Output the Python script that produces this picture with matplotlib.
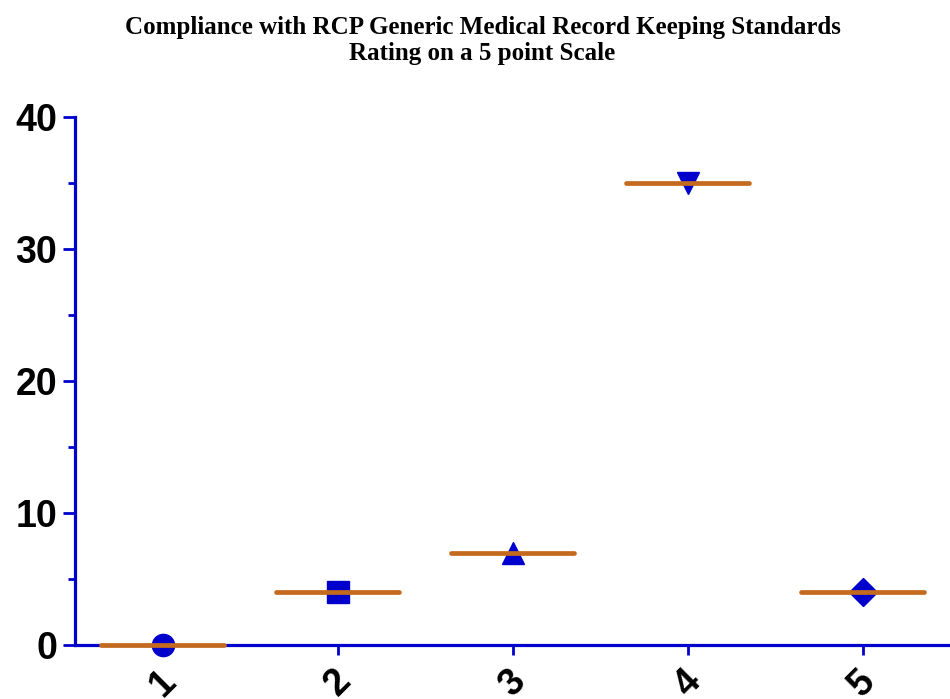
import matplotlib
matplotlib.use("Agg")
from matplotlib import pyplot as plt
import numpy as np

# ratings 1..5 and the counts plotted for each
ratings = [1, 2, 3, 4, 5]
counts = [0, 4, 7, 35, 4]
tick_labels = ["1", "2", "3", "4", "5"]
markers = ["o", "s", "^", "v", "D"]

blue = "#0000CC"
orange = "#C46A1E"

fig = plt.figure(figsize=(9.5, 6.99), dpi=100)
ax = fig.add_axes([0.079, 0.0773, 0.921, 0.7553])

for x, y, m in zip(ratings, counts, markers):
    ms = 16 if m != "D" else 14
    ax.plot(x, y, marker=m, color=blue, markersize=ms, linestyle="none",
            zorder=2, clip_on=False)

xs = np.array(ratings)
ax.hlines(counts, xs - 0.35, xs + 0.35, colors=orange, linewidth=3.4,
          capstyle="round", zorder=3, clip_on=False)

ax.set_xlim(0.5, 5.5)
ax.set_ylim(0, 40)
ax.set_yticks([0, 10, 20, 30, 40])
ax.set_yticks([5, 15, 25, 35], minor=True)
ax.set_xticks(ratings)
ax.set_xticklabels(tick_labels, rotation=45, ha="center", va="top")

for s in ["top", "right"]:
    ax.spines[s].set_visible(False)
for s in ["left", "bottom"]:
    ax.spines[s].set_color(blue)
    ax.spines[s].set_linewidth(2.3)

ax.tick_params(axis="y", which="major", length=9, width=2, color=blue,
               labelsize=27, pad=4)
ax.tick_params(axis="y", which="minor", length=5, width=2, color=blue)
ax.tick_params(axis="x", which="major", length=7, width=2, color=blue,
               labelsize=27, pad=6)
for lab in ax.get_xticklabels() + ax.get_yticklabels():
    lab.set_fontweight("bold")
    lab.set_family("Liberation Sans")

fig.text(0.508, 0.961, "Compliance with RCP Generic Medical Record Keeping Standards",
         ha="center", va="center", fontsize=18, fontweight="bold",
         family="Liberation Serif")
fig.text(0.508, 0.923, "Rating on a 5 point Scale",
         ha="center", va="center", fontsize=18, fontweight="bold",
         family="Liberation Serif")

fig.savefig("out.png", dpi=100)
